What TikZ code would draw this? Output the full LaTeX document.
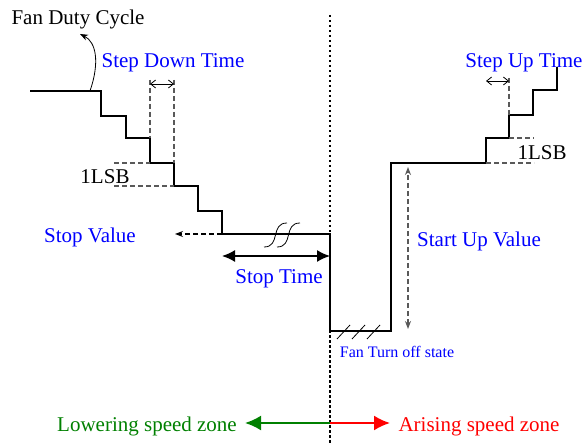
\documentclass[tikz,border=0pt]{standalone}
\usepackage{fontspec}
\setmainfont{Liberation Serif}
\usetikzlibrary{arrows.meta,positioning}

\begin{document}
\begin{tikzpicture}[
    x=1pt, y=-1pt,
    curve/.style={line width=2.2pt, line join=miter},
    guide/.style={gray!70!black, line width=1.2pt, dash pattern=on 5pt off 3pt},
    span/.style={line width=0.8pt, {Straight Barb[length=5pt,width=8pt]}-{Straight Barb[length=5pt,width=8pt]}},
    zone/.style={line width=2pt, -{Latex[length=16pt,width=15pt]}},
    big/.style={font=\fontsize{21}{24}\selectfont, inner sep=0pt},
    tag/.style={big, text=blue},
    small-tag/.style={font=\fontsize{16}{18}\selectfont, inner sep=0pt, text=blue}
]
    \useasboundingbox (0,0) rectangle (583,443);

    % Divider between the two zones
    \draw[line width=1.5pt, dash pattern=on 2.5pt off 2.5pt] (330,15) -- (330,443);

    % Duty cycle: step down, stop, turn off, start up, step up
    \draw[curve] (30,91) -- (101,91) -- (101,116) -- (126,116) -- (126,138)
        -- (150,138) -- (150,163) -- (174,163) -- (174,186) -- (198,186)
        -- (198,211) -- (222,211) -- (222,234) -- (330,234) -- (330,331)
        -- (391,331) -- (391,163) -- (486,163) -- (486,138) -- (509,138)
        -- (509,115) -- (533,115) -- (533,90) -- (557,90) -- (557,67);

    % Named points on the curve
    \coordinate (duty-foot) at (90,91);
    \coordinate (duty-tip)  at (80,34);
    \coordinate (stop-step) at (222,234);
    \coordinate (stop-end)  at (175,234);
    \coordinate (stop-a)    at (222,256);
    \coordinate (stop-b)    at (330,256);
    \coordinate (off-level) at (408,329);
    \coordinate (on-level)  at (408,167);
    \coordinate (mid)       at (330,423);
    \coordinate (low-end)   at (245,423);
    \coordinate (high-end)  at (390,423);

    % Labels
    \node[big]                 (duty)     at (78,19)   {Fan Duty Cycle};
    \node[tag]                 (stepdown) at (173,63)  {Step Down Time};
    \node[big]                 (lsb-left) at (105,177) {1LSB};
    \node[tag]                 (stopval)  at (90,237)  {Stop Value};
    \node[tag]                 (stoptime) at (279,279) {Stop Time};
    \node[small-tag]           (fanoff)   at (397,352) {Fan Turn off state};
    \node[tag]                 (startup)  at (479,241) {Start Up Value};
    \node[tag]                 (stepup)   at (524,63)  {Step Up Time};
    \node[big]                 (lsb-right) at (542,153) {1LSB};
    \node[big, text=green!50!black] (lower) at (147,426) {Lowering speed zone};
    \node[big, text=red]       (arise)    at (479,426) {Arising speed zone};

    % Step down guides
    \draw[guide] (150,80) -- (150,138);
    \draw[guide] (174,80) -- (174,163);
    \draw[span] (150,84) -- (174,84);
    \draw[guide] (114,163) -- (150,163);
    \draw[guide] (114,186) -- (174,186);

    % Step up guides
    \draw[guide] (509,78) -- (509,115);
    \draw[span] (486,81) -- (509,81);
    \draw[guide] (509,138) -- (534,138);
    \draw[guide] (486,163) -- (534,163);

    % Break marks on the stop level
    \draw[line width=0.8pt] (264,247) .. controls (281,247) and (270,223) .. (287,223);
    \draw[line width=0.8pt] (277,247) .. controls (294,247) and (283,223) .. (300,223);

    % Hatching under the off state
    \foreach \x in {337,352,367}
        \draw[line width=0.8pt] (\x,339) -- (\x+13,325);

    % Connectors
    \draw[line width=0.8pt, -{Stealth[length=8pt,width=6pt]}] (duty-foot)
        .. controls (100,62) and (96,42) .. (duty-tip);
    \draw[guide, black, -{Stealth[length=8pt,width=6pt]}] (stop-step) -- (stop-end);
    \draw[line width=1.5pt, {Latex[length=13pt,width=12pt]}-{Latex[length=13pt,width=12pt]}] (stop-a) -- (stop-b);
    \draw[guide, {Stealth[length=8pt,width=6pt]}-{Stealth[length=8pt,width=6pt]}] (off-level) -- (on-level);
    \draw[zone, green!50!black] (mid) -- (low-end);
    \draw[zone, red] (mid) -- (high-end);
\end{tikzpicture}
\end{document}
